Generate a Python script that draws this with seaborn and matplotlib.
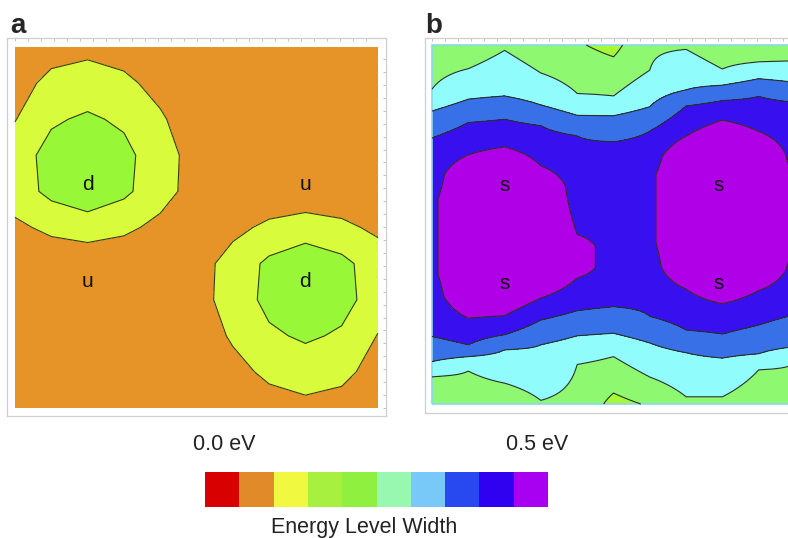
import numpy as np
import matplotlib

matplotlib.use("Agg")
import matplotlib.pyplot as plt
from matplotlib.colors import ListedColormap
from matplotlib.patches import Rectangle
import seaborn as sns

sns.set_style("white")
plt.rcParams["font.family"] = ["Liberation Sans", "DejaVu Sans"]

# ---------------- panel a: level width (eV) read on an 11 x 11 grid ----------------
# rows listed from top (y = 1.0) to bottom (y = 0.0), columns x = 0.0 ... 1.0
grid_a = np.linspace(0, 1, 11)
width_a_rows = [
    [0.073, 0.085, 0.089, 0.084, 0.071, 0.070, 0.070, 0.070, 0.070, 0.070, 0.070],
    [0.085, 0.110, 0.120, 0.108, 0.088, 0.070, 0.070, 0.070, 0.070, 0.070, 0.070],
    [0.098, 0.143, 0.158, 0.141, 0.105, 0.077, 0.070, 0.070, 0.070, 0.070, 0.070],
    [0.125, 0.168, 0.198, 0.165, 0.119, 0.083, 0.070, 0.070, 0.070, 0.070, 0.070],
    [0.123, 0.164, 0.189, 0.161, 0.117, 0.082, 0.070, 0.070, 0.072, 0.070, 0.070],
    [0.091, 0.110, 0.120, 0.109, 0.089, 0.070, 0.089, 0.109, 0.120, 0.110, 0.091],
    [0.070, 0.070, 0.072, 0.070, 0.070, 0.082, 0.117, 0.161, 0.189, 0.164, 0.123],
    [0.070, 0.070, 0.070, 0.070, 0.070, 0.083, 0.119, 0.165, 0.198, 0.168, 0.125],
    [0.070, 0.070, 0.070, 0.070, 0.070, 0.077, 0.105, 0.141, 0.158, 0.143, 0.098],
    [0.070, 0.070, 0.070, 0.070, 0.070, 0.070, 0.088, 0.108, 0.120, 0.110, 0.085],
    [0.070, 0.070, 0.070, 0.070, 0.070, 0.070, 0.071, 0.084, 0.089, 0.085, 0.073],
]
levels_a = [0.05, 0.10, 0.15, 0.20]
colors_a = ["#e69428", "#d8fc3c", "#98f838"]
labels_a = ["d", "u", "u", "d"]
label_x_a = [0.20, 0.80, 0.20, 0.80]
label_y_a = [0.62, 0.62, 0.35, 0.35]

# ---------------- panel b: contour heights read per column ----------------
cols_b = np.linspace(0, 1, 11)
edge_bottom_b = [0.22, 0.22, 0.22, 0.22, 0.24, 0.185, 0.205, 0.22, 0.22, 0.22, 0.22]
green_cyan_lo = [0.076, 0.092, 0.058, 0.010, 0.110, 0.132, 0.075, 0.020, 0.020, 0.095, 0.114]
cyan_blue_lo = [0.118, 0.132, 0.151, 0.165, 0.190, 0.197, 0.170, 0.143, 0.128, 0.140, 0.160]
blue_dark_lo = [0.188, 0.165, 0.193, 0.234, 0.260, 0.271, 0.244, 0.206, 0.195, 0.220, 0.250]
magenta_lo = [np.nan, 0.239, 0.246, 0.295, 0.351, np.nan, np.nan, 0.320, 0.279, 0.316, np.nan]
core_lo = [0.36, 0.30, 0.31, 0.35, 0.38, 0.35, 0.45, 0.38, 0.34, 0.37, 0.40]
core_hi = [0.57, 0.64, 0.66, 0.61, 0.44, 0.60, 0.64, 0.69, 0.73, 0.70, 0.66]
core_val = [0.39, 0.45, 0.45, 0.45, 0.43, 0.37, 0.39, 0.45, 0.45, 0.45, 0.39]
magenta_hi = [np.nan, 0.694, 0.716, 0.663, 0.472, np.nan, np.nan, 0.746, 0.791, 0.759, np.nan]
blue_dark_hi = [0.741, 0.784, 0.793, 0.775, 0.747, 0.730, 0.760, 0.830, 0.845, 0.857, 0.840]
cyan_blue_hi = [0.816, 0.849, 0.858, 0.833, 0.804, 0.803, 0.828, 0.875, 0.888, 0.906, 0.896]
green_cyan_hi = [0.877, 0.934, 0.985, 0.922, 0.865, 0.858, 0.930, 0.988, 0.933, 0.953, 0.956]
edge_top_b = [0.22, 0.22, 0.22, 0.22, 0.205, 0.185, 0.245, 0.22, 0.22, 0.22, 0.22]
levels_b = [0.15, 0.20, 0.25, 0.30, 0.35, 0.40, 0.50]
colors_b = ["#a8f838", "#8ef870", "#90fcfc", "#3870e8", "#3810f0", "#b000e8"]
labels_b = ["s", "s", "s", "s"]
label_x_b = [0.20, 0.20, 0.79, 0.79]
label_y_b = [0.61, 0.335, 0.61, 0.335]

# ---------------- legend bar ----------------
bar_colors = ["#d80000", "#e08a2a", "#f0f840", "#a8f040", "#90f040",
              "#98f8b0", "#78c8f8", "#2848f0", "#3000f0", "#a800f0"]
bar_low, bar_high = "0.0 eV", "0.5 eV"
bar_title = "Energy Level Width"

# build panel b field column by column from the read contour heights
ys_b = np.linspace(0, 1, 401)
field_b = np.empty((len(ys_b), len(cols_b)))
for i in range(len(cols_b)):
    ky = [0.0, green_cyan_lo[i], cyan_blue_lo[i], blue_dark_lo[i]]
    kv = [edge_bottom_b[i], 0.25, 0.30, 0.35]
    if not np.isnan(magenta_lo[i]):
        ky += [magenta_lo[i], core_lo[i], core_hi[i], magenta_hi[i]]
        kv += [0.40, core_val[i], core_val[i], 0.40]
    else:
        ky += [core_lo[i], core_hi[i]]
        kv += [core_val[i], core_val[i]]
    ky += [blue_dark_hi[i], cyan_blue_hi[i], green_cyan_hi[i], 1.0]
    kv += [0.35, 0.30, 0.25, edge_top_b[i]]
    field_b[:, i] = np.interp(ys_b, ky, kv)

width_a = np.array(width_a_rows)[::-1]

fig = plt.figure(figsize=(7.88, 5.38), dpi=100)


def frame(ax, pad_l, pad_r, pad_b, pad_t):
    ax.set_xlim(-pad_l, 1 + pad_r)
    ax.set_ylim(-pad_b, 1 + pad_t)
    ticks = np.arange(0, 1.001, 0.0358)
    ax.set_xticks(ticks)
    ax.set_yticks(ticks)
    ax.tick_params(direction="in", length=2.5, width=0.6, color="#b4b4b4",
                   top=True, right=True, labelbottom=False, labelleft=False)
    for sp in ax.spines.values():
        sp.set_color("#cfcfcf")
        sp.set_linewidth(0.9)


# panel a
ax_a = fig.add_axes([7 / 788, 1 - 416 / 538, 379 / 788, 378 / 538])
ax_a.contourf(grid_a, grid_a, width_a, levels=levels_a, colors=colors_a)
ax_a.contour(grid_a, grid_a, width_a, levels=levels_a[1:3], colors="#3a3a20",
             linewidths=0.8)
for t, x, y in zip(labels_a, label_x_a, label_y_a):
    ax_a.text(x, y, t, ha="center", va="center", fontsize=15, color="#111111")
frame(ax_a, 8 / 363, 8 / 363, 8 / 361, 9 / 361)

# panel b (runs past the right edge of the picture)
ax_b = fig.add_axes([425 / 788, 1 - 413 / 538, 377 / 788, 375 / 538])
ax_b.contourf(cols_b, ys_b, field_b, levels=levels_b, colors=colors_b)
ax_b.contour(cols_b, ys_b, field_b, levels=levels_b[1:-1], colors="#2a3020",
             linewidths=0.8)
ax_b.add_patch(Rectangle((0, 0), 1, 1, fill=False, ec="#8ad8f0", lw=1.2))
for t, x, y in zip(labels_b, label_x_b, label_y_b):
    ax_b.text(x, y, t, ha="center", va="center", fontsize=15, color="#111111")
frame(ax_b, 7 / 363, 7 / 363, 9 / 358, 7 / 358)

fig.text(10 / 788, 1 - 33 / 538, "a", fontsize=20, fontweight="bold", va="baseline")
fig.text(425 / 788, 1 - 33 / 538, "b", fontsize=20, fontweight="bold", va="baseline")

# legend bar
cax = fig.add_axes([205 / 788, 1 - 507 / 538, 343 / 788, 35 / 538])
sns.heatmap(np.arange(len(bar_colors)).reshape(1, -1), cmap=ListedColormap(bar_colors),
            cbar=False, xticklabels=False, yticklabels=False, linewidths=0, ax=cax)
fig.text(224 / 788, 1 - 445 / 538, bar_low, ha="center", va="center",
         fontsize=15.5, color="#222222")
fig.text(537 / 788, 1 - 445 / 538, bar_high, ha="center", va="center",
         fontsize=15.5, color="#222222")
fig.text(364 / 788, 1 - 527 / 538, bar_title, ha="center", va="center",
         fontsize=15.5, color="#222222")

fig.savefig("out.png", dpi=100)
